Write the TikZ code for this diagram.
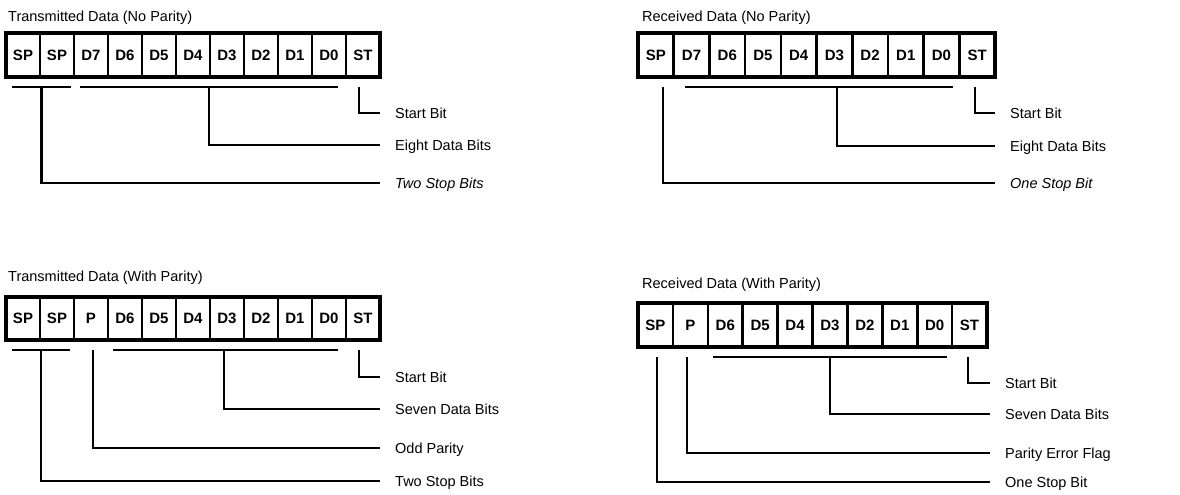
\documentclass[tikz,border=0pt]{standalone}
\usepackage{fontspec}
\setsansfont{Liberation Sans}
\usetikzlibrary{positioning,fit}

\begin{document}
\begin{tikzpicture}[x=1pt, y=-1pt,
  font=\sffamily,
  bitbox/.style={draw, line width=2.6pt, inner sep=0pt, outer sep=0pt, fill=white,
                 font=\sffamily\bfseries\fontsize{15}{17}\selectfont},
  wordbox/.style={draw, line width=4.4pt, inner sep=0pt},
  heading/.style={anchor=west, inner sep=0pt, font=\sffamily\fontsize{14.5}{16}\selectfont},
  lbl/.style={anchor=west, inner sep=0pt, text height=10.4pt, text depth=0pt,
              font=\sffamily\fontsize{14.5}{16}\selectfont},
  bar/.style={line width=2.7pt},
  conn/.style={line width=2.7pt, shorten >=15pt}]

\useasboundingbox (0,0) rectangle (1180,495);

% ---- transmitted data, no parity ----
\node[heading] (tn-title) at (8,18) {Transmitted Data (No Parity)};
\foreach \t [count=\i] in {SP,SP,D7,D6,D5,D4,D3,D2,D1,D0,ST}
  \node[bitbox, minimum width=34pt, minimum height=44pt] (tn\i) at ({6+34*(\i-0.5)},55) {\t};
\node[wordbox, fit=(tn1)(tn11)] (tn-word) {};

\coordinate (tn-sp) at (41.5,87);
\coordinate (tn-d) at (209,87);
\coordinate (tn-st) at (359,87);
\draw[bar] (12,87) -- (71,87);
\draw[bar] (80,87) -- (338,87);

\node[lbl] (tn-start) at (395,113) {Start Bit};
\node[lbl] (tn-data) at (395,145) {Eight Data Bits};
\node[lbl] (tn-stop) at (395,183) {\itshape Two Stop Bits};

\draw[conn] (tn-st) |- (tn-start.west);
\draw[conn] (tn-d) |- (tn-data.west);
\draw[conn] (tn-sp) |- (tn-stop.west);

% ---- received data, no parity ----
\node[heading] (rn-title) at (642,18) {Received Data (No Parity)};
\foreach \t [count=\i] in {SP,D7,D6,D5,D4,D3,D2,D1,D0,ST}
  \node[bitbox, minimum width=35.7pt, minimum height=44pt] (rn\i) at ({638+35.7*(\i-0.5)},55) {\t};
\node[wordbox, fit=(rn1)(rn10)] (rn-word) {};

\coordinate (rn-sp) at (663,87);
\coordinate (rn-d) at (837,87);
\coordinate (rn-st) at (975,87);
\draw[bar] (685,87) -- (953,87);

\node[lbl] (rn-start) at (1010,113) {Start Bit};
\node[lbl] (rn-data) at (1010,146) {Eight Data Bits};
\node[lbl] (rn-stop) at (1010,183) {\itshape One Stop Bit};

\draw[conn] (rn-st) |- (rn-start.west);
\draw[conn] (rn-d) |- (rn-data.west);
\draw[conn] (rn-sp) |- (rn-stop.west);

% ---- transmitted data, with parity ----
\node[heading] (tp-title) at (8,278) {Transmitted Data (With Parity)};
\foreach \t [count=\i] in {SP,SP,P,D6,D5,D4,D3,D2,D1,D0,ST}
  \node[bitbox, minimum width=34pt, minimum height=43pt] (tp\i) at ({6+34*(\i-0.5)},318.5) {\t};
\node[wordbox, fit=(tp1)(tp11)] (tp-word) {};

\coordinate (tp-sp) at (41,350);
\coordinate (tp-p) at (93,350);
\coordinate (tp-d) at (224,350);
\coordinate (tp-st) at (359,350);
\draw[bar] (12,350) -- (70,350);
\draw[bar] (113,350) -- (338,350);

\node[lbl] (tp-start) at (395,377) {Start Bit};
\node[lbl] (tp-data) at (395,409) {Seven Data Bits};
\node[lbl] (tp-par) at (395,448) {Odd Parity};
\node[lbl] (tp-stop) at (395,481) {Two Stop Bits};

\draw[conn] (tp-st) |- (tp-start.west);
\draw[conn] (tp-d) |- (tp-data.west);
\draw[conn] (tp-p) |- (tp-par.west);
\draw[conn] (tp-sp) |- (tp-stop.west);

% ---- received data, with parity ----
\node[heading] (rp-title) at (642,285) {Received Data (With Parity)};
\foreach \t [count=\i] in {SP,P,D6,D5,D4,D3,D2,D1,D0,ST}
  \node[bitbox, minimum width=34.9pt, minimum height=44pt] (rp\i) at ({638+34.9*(\i-0.5)},325) {\t};
\node[wordbox, fit=(rp1)(rp10)] (rp-word) {};

\coordinate (rp-sp) at (657,357);
\coordinate (rp-p) at (687,357);
\coordinate (rp-d) at (830,357);
\coordinate (rp-st) at (968,357);
\draw[bar] (713,357) -- (947,357);

\node[lbl] (rp-start) at (1005,383) {Start Bit};
\node[lbl] (rp-data) at (1005,414) {Seven Data Bits};
\node[lbl] (rp-par) at (1005,453) {Parity Error Flag};
\node[lbl] (rp-stop) at (1005,482) {One Stop Bit};

\draw[conn] (rp-st) |- (rp-start.west);
\draw[conn] (rp-d) |- (rp-data.west);
\draw[conn] (rp-p) |- (rp-par.west);
\draw[conn] (rp-sp) |- (rp-stop.west);
\end{tikzpicture}
\end{document}
